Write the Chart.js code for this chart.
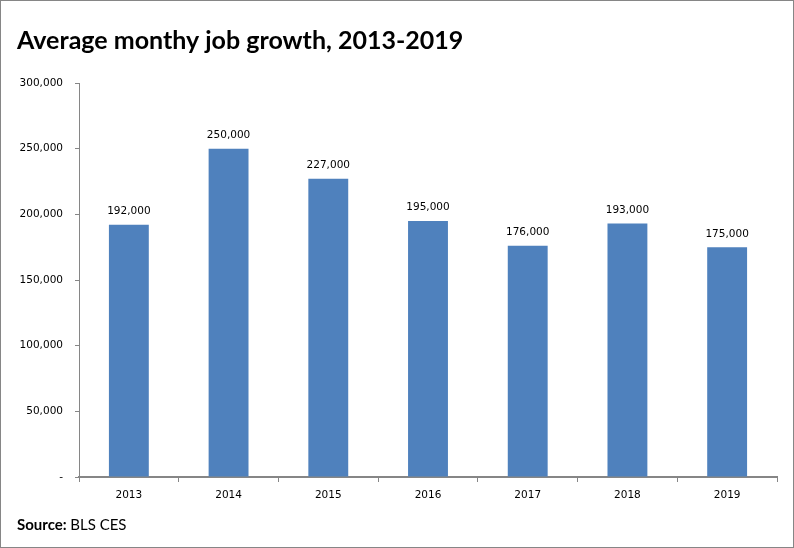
<!DOCTYPE html>
<html>
<head>
<meta charset="utf-8">
<script src="https://cdn.jsdelivr.net/npm/chart.js@4.4.1/dist/chart.umd.min.js"></script>
<style>
  html, body { margin: 0; padding: 0; background: #fff; }
  #wrap { position: relative; width: 794px; height: 548px; box-sizing: border-box; border: 1px solid #868686; background: #fff; }
  canvas { display: block; }
</style>
</head>
<body>
<div id="wrap"><canvas id="c" width="792" height="546"></canvas></div>
<script>
const categories = ['2013', '2014', '2015', '2016', '2017', '2018', '2019'];
const jobGrowth = [192000, 250000, 227000, 195000, 176000, 193000, 175000];
const yTicks = [0, 50000, 100000, 150000, 200000, 250000, 300000];
const titleText = 'Average monthy job growth, 2013-2019';
const sourceLabel = 'Source:';
const sourceText = 'BLS CES';

const axisColor = '#868686';
const tickFont = { family: 'DejaVu Sans', size: 10.5 };
const fmt = v => v === 0 ? '-' : v.toLocaleString('en-US');

const decorPlugin = {
  id: 'decor',
  afterDatasetsDraw(chart) {
    const ctx = chart.ctx;
    ctx.save();
    // value labels
    ctx.font = '10.5px "DejaVu Sans"';
    ctx.fillStyle = '#000';
    ctx.textAlign = 'center';
    ctx.textBaseline = 'bottom';
    const meta = chart.getDatasetMeta(0);
    meta.data.forEach((bar, i) => {
      const p = bar.getProps(['x', 'y'], true);
      ctx.fillText(jobGrowth[i].toLocaleString('en-US'), p.x, p.y - 8);
    });
    // title
    ctx.textAlign = 'left';
    ctx.textBaseline = 'alphabetic';
    ctx.font = 'bold 25px Lato';
    ctx.fillText(titleText, 16, 48);
    // source
    ctx.font = 'bold 15px Lato';
    ctx.fillText(sourceLabel, 16, 529);
    const w = ctx.measureText(sourceLabel + ' ').width;
    ctx.font = '15px Lato';
    ctx.fillText(sourceText, 16 + w, 529);
    ctx.restore();
  }
};

new Chart(document.getElementById('c'), {
  type: 'bar',
  data: {
    labels: categories,
    datasets: [{
      data: jobGrowth,
      backgroundColor: '#4F81BD',
      borderWidth: 0,
      barPercentage: 0.4,
      categoryPercentage: 1.0
    }]
  },
  options: {
    responsive: false,
    animation: false,
    devicePixelRatio: 1,
    layout: { padding: { top: 82, right: 16, left: 0, bottom: 0 } },
    plugins: { legend: { display: false }, tooltip: { enabled: false }, title: { display: false } },
    scales: {
      y: {
        min: 0, max: 300000,
        afterBuildTicks: s => { s.ticks = yTicks.map(v => ({ value: v })); },
        afterFit: s => { s.width = 78; },
        grid: { drawOnChartArea: false, drawTicks: true, tickLength: 4, color: axisColor },
        border: { display: true, color: axisColor, width: 1 },
        ticks: { callback: v => fmt(v), font: tickFont, color: '#000', padding: 12 }
      },
      x: {
        afterFit: s => { s.height = 70; },
        grid: { drawOnChartArea: false, drawTicks: true, tickLength: 5, color: axisColor, offset: true },
        border: { display: true, color: axisColor, width: 2 },
        ticks: { font: tickFont, color: '#000', padding: 7 }
      }
    }
  },
  plugins: [decorPlugin]
});
</script>
</body>
</html>
